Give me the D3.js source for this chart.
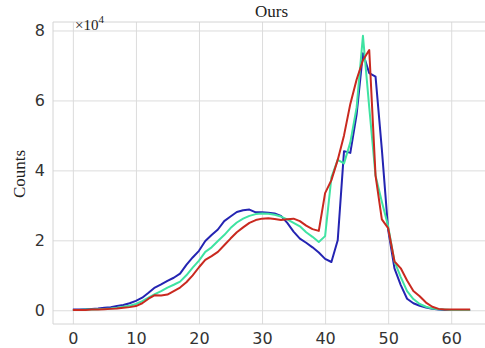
<!DOCTYPE html>
<html>
<head>
<meta charset="utf-8">
<script src="https://cdn.jsdelivr.net/npm/d3@7"></script>
<style>
  body { margin: 0; background: #fff; }
  svg { display: block; }
</style>
</head>
<body>
<div id="chart"></div>
<script>
// bins 0..63, counts in units of 1e4
const bins = d3.range(0, 64)
const blueCounts = [
  0.02, 0.02, 0.03, 0.04, 0.05, 0.07, 0.09, 0.12, 0.15, 0.2,
  0.27, 0.36, 0.5, 0.65, 0.74, 0.84, 0.93, 1.05, 1.3, 1.51,
  1.7, 1.98, 2.15, 2.31, 2.55, 2.68, 2.81, 2.86, 2.88, 2.8,
  2.8, 2.79, 2.77, 2.7, 2.5, 2.25, 2.05, 1.93, 1.8, 1.65,
  1.47, 1.38, 2.0, 4.55, 4.5, 5.6, 7.35, 6.78, 6.68, 4.6,
  2.3, 1.2, 0.72, 0.33, 0.2, 0.13, 0.08, 0.04, 0.02, 0.01,
  0.01, 0.01, 0.01, 0.01
]
const greenCounts = [
  0.01, 0.01, 0.02, 0.02, 0.03, 0.04, 0.05, 0.07, 0.1, 0.13,
  0.18, 0.26, 0.36, 0.46, 0.55, 0.65, 0.73, 0.82, 1.0, 1.22,
  1.42, 1.67, 1.8, 1.98, 2.15, 2.35, 2.51, 2.62, 2.7, 2.75,
  2.77, 2.76, 2.73, 2.68, 2.6, 2.5, 2.4, 2.23, 2.1, 1.95,
  2.12, 3.8, 4.3, 4.2, 4.8, 5.8, 7.85, 5.8, 3.85, 3.1,
  2.4, 1.4, 0.95, 0.55, 0.32, 0.18, 0.1, 0.05, 0.03, 0.02,
  0.01, 0.01, 0.01, 0.01
]
const redCounts = [
  0.01, 0.01, 0.01, 0.02, 0.02, 0.03, 0.04, 0.05, 0.07, 0.09,
  0.12, 0.2, 0.33, 0.43, 0.42, 0.45, 0.55, 0.65, 0.8, 1.0,
  1.23, 1.44, 1.55, 1.67, 1.86, 2.05, 2.23, 2.37, 2.5, 2.58,
  2.62, 2.63, 2.61, 2.58, 2.6, 2.62, 2.55, 2.42, 2.32, 2.27,
  3.35, 3.72, 4.3, 5.0, 5.9, 6.6, 7.15, 7.44, 3.85, 2.6,
  2.35, 1.4, 1.2, 0.85, 0.55, 0.4, 0.22, 0.1, 0.04, 0.02,
  0.02, 0.02, 0.02, 0.02
]
const xTicks = [0, 10, 20, 30, 40, 50, 60]
const yTicks = [0, 2, 4, 6, 8]

const series = [
  {name: 'blue', values: blueCounts, color: '#2424b2'},
  {name: 'green', values: greenCounts, color: '#3fe3a2'},
  {name: 'red', values: redCounts, color: '#c9291f'},
]

const width = 485
const height = 348
const plotLeft = 53
const plotTop = 22
const plotBottom = 324
const plotRight = 490

const svg = d3.select('#chart')
  .append('svg')
  .attr('width', width)
  .attr('height', height)

const x = d3.scaleLinear().domain([-3.15, 66.15]).range([plotLeft, plotRight])
const y = d3.scaleLinear().domain([-0.3925, 8.2425]).range([plotBottom, plotTop])

// grid + x labels
const xAxis = svg.append('g')
  .attr('transform', `translate(0,${plotBottom})`)
  .call(d3.axisBottom(x).tickValues(xTicks).tickSize(-(plotBottom - plotTop)).tickPadding(9).tickFormat(d3.format('d')))
xAxis.select('.domain').remove()
xAxis.selectAll('line').attr('stroke', '#dcdcdc').attr('stroke-width', 1)
xAxis.selectAll('text')
  .attr('fill', '#333')
  .style('font-family', 'DejaVu Sans')
  .style('font-size', '16px')

const yAxis = svg.append('g')
  .attr('transform', `translate(${plotLeft},0)`)
  .call(d3.axisLeft(y).tickValues(yTicks).tickSize(-(plotRight - plotLeft)).tickPadding(8).tickFormat(d3.format('d')))
yAxis.select('.domain').remove()
yAxis.selectAll('line').attr('stroke', '#dcdcdc').attr('stroke-width', 1)
yAxis.selectAll('text')
  .attr('fill', '#333')
  .style('font-family', 'DejaVu Sans')
  .style('font-size', '16px')

// frame
svg.append('path')
  .attr('d', `M${plotRight},${plotTop}H${plotLeft}V${plotBottom}H${plotRight}`)
  .attr('fill', 'none')
  .attr('stroke', '#d4d4d4')
  .attr('stroke-width', 1)

// curves
const line = d3.line()
  .x((d, i) => x(bins[i]))
  .y(d => y(d))

svg.append('g')
  .selectAll('path')
  .data(series)
  .enter()
  .append('path')
  .attr('d', d => line(d.values))
  .attr('fill', 'none')
  .attr('stroke', d => d.color)
  .attr('stroke-width', 2)
  .attr('stroke-linejoin', 'round')

// title
svg.append('text')
  .attr('x', (plotLeft + plotRight) / 2)
  .attr('y', 17)
  .attr('text-anchor', 'middle')
  .attr('fill', '#222')
  .style('font-family', 'Liberation Serif')
  .style('font-size', '17px')
  .text('Ours')

// y label
svg.append('text')
  .attr('transform', `translate(25,174) rotate(-90)`)
  .attr('text-anchor', 'middle')
  .attr('fill', '#222')
  .style('font-family', 'Liberation Serif')
  .style('font-size', '17px')
  .text('Counts')

// multiplier
const mult = svg.append('text')
  .attr('x', 75)
  .attr('y', 30)
  .attr('fill', '#222')
  .style('font-family', 'Liberation Serif')
  .style('font-size', '15px')
mult.append('tspan').text('×10')
mult.append('tspan')
  .attr('dy', -7)
  .style('font-size', '11px')
  .text('4')
</script>
</body>
</html>
